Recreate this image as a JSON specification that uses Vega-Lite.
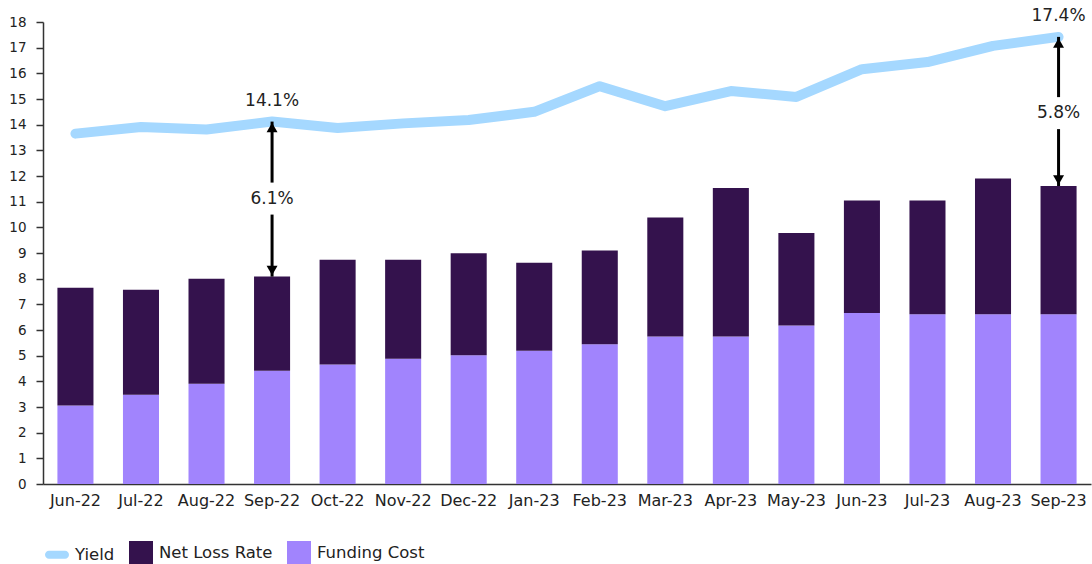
{
  "$schema": "https://vega.github.io/schema/vega-lite/v6.json",
  "autosize": "none",
  "width": 1048,
  "height": 462,
  "padding": {"left": 43, "top": 22, "right": 1, "bottom": 80},
  "background": "white",
  "config": {
    "font": "DejaVu Sans",
    "view": {"stroke": null},
    "axis": {"grid": false, "domainColor": "#333333", "domainWidth": 1.5, "tickColor": "#333333", "tickWidth": 1.5, "labelColor": "#222222", "labelFont": "DejaVu Sans"}
  },
  "datasets": {
    "bars": [
      {"month": "Jun-22", "series": "Funding Cost", "v": 3.06},
      {"month": "Jun-22", "series": "Net Loss Rate", "v": 4.59},
      {"month": "Jul-22", "series": "Funding Cost", "v": 3.48},
      {"month": "Jul-22", "series": "Net Loss Rate", "v": 4.09},
      {"month": "Aug-22", "series": "Funding Cost", "v": 3.91},
      {"month": "Aug-22", "series": "Net Loss Rate", "v": 4.09},
      {"month": "Sep-22", "series": "Funding Cost", "v": 4.41},
      {"month": "Sep-22", "series": "Net Loss Rate", "v": 3.67},
      {"month": "Oct-22", "series": "Funding Cost", "v": 4.66},
      {"month": "Oct-22", "series": "Net Loss Rate", "v": 4.08},
      {"month": "Nov-22", "series": "Funding Cost", "v": 4.88},
      {"month": "Nov-22", "series": "Net Loss Rate", "v": 3.86},
      {"month": "Dec-22", "series": "Funding Cost", "v": 5.02},
      {"month": "Dec-22", "series": "Net Loss Rate", "v": 3.97},
      {"month": "Jan-23", "series": "Funding Cost", "v": 5.19},
      {"month": "Jan-23", "series": "Net Loss Rate", "v": 3.43},
      {"month": "Feb-23", "series": "Funding Cost", "v": 5.44},
      {"month": "Feb-23", "series": "Net Loss Rate", "v": 3.66},
      {"month": "Mar-23", "series": "Funding Cost", "v": 5.75},
      {"month": "Mar-23", "series": "Net Loss Rate", "v": 4.63},
      {"month": "Apr-23", "series": "Funding Cost", "v": 5.75},
      {"month": "Apr-23", "series": "Net Loss Rate", "v": 5.78},
      {"month": "May-23", "series": "Funding Cost", "v": 6.18},
      {"month": "May-23", "series": "Net Loss Rate", "v": 3.6},
      {"month": "Jun-23", "series": "Funding Cost", "v": 6.66},
      {"month": "Jun-23", "series": "Net Loss Rate", "v": 4.39},
      {"month": "Jul-23", "series": "Funding Cost", "v": 6.61},
      {"month": "Jul-23", "series": "Net Loss Rate", "v": 4.44},
      {"month": "Aug-23", "series": "Funding Cost", "v": 6.61},
      {"month": "Aug-23", "series": "Net Loss Rate", "v": 5.29},
      {"month": "Sep-23", "series": "Funding Cost", "v": 6.61},
      {"month": "Sep-23", "series": "Net Loss Rate", "v": 5.0}
    ],
    "yieldline": [
      {"month": "Jun-22", "v": 13.65},
      {"month": "Jul-22", "v": 13.91},
      {"month": "Aug-22", "v": 13.81},
      {"month": "Sep-22", "v": 14.12},
      {"month": "Oct-22", "v": 13.87},
      {"month": "Nov-22", "v": 14.05},
      {"month": "Dec-22", "v": 14.18},
      {"month": "Jan-23", "v": 14.5},
      {"month": "Feb-23", "v": 15.5},
      {"month": "Mar-23", "v": 14.72},
      {"month": "Apr-23", "v": 15.31},
      {"month": "May-23", "v": 15.08},
      {"month": "Jun-23", "v": 16.16},
      {"month": "Jul-23", "v": 16.44},
      {"month": "Aug-23", "v": 17.07},
      {"month": "Sep-23", "v": 17.42}
    ],
    "annot": [
      {"month": "Sep-22", "part": "upper", "v": 14.12, "v2": 11.12, "label": "14.1%"},
      {"month": "Sep-22", "part": "lower", "v": 8.08, "v2": 11.12, "label": ""},
      {"month": "Sep-22", "part": "mid", "v": 11.12, "v2": 11.12, "label": "6.1%"},
      {"month": "Sep-23", "part": "upper", "v": 17.42, "v2": 14.45, "label": "17.4%"},
      {"month": "Sep-23", "part": "lower", "v": 11.61, "v2": 14.45, "label": ""},
      {"month": "Sep-23", "part": "mid", "v": 14.45, "v2": 14.45, "label": "5.8%"}
    ]
  },
  "encoding": {
    "x": {
      "field": "month",
      "type": "ordinal",
      "sort": null,
      "scale": {"paddingInner": 0.45, "paddingOuter": 0.22},
      "axis": {"title": null, "labelAngle": 0, "ticks": false, "labelPadding": 8, "labelFontSize": 16, "labelOverlap": false}
    },
    "y": {
      "field": "v",
      "type": "quantitative",
      "scale": {"domain": [0, 18], "nice": false},
      "axis": {"title": null, "values": [0,1,2,3,4,5,6,7,8,9,10,11,12,13,14,15,16,17,18], "tickSize": 7, "labelPadding": 10, "labelFontSize": 13.5, "labelOverlap": false}
    }
  },
  "layer": [
    {
      "data": {"name": "bars"},
      "mark": {"type": "bar"},
      "encoding": {
        "color": {
          "field": "series",
          "type": "nominal",
          "scale": {"domain": ["Yield", "Net Loss Rate", "Funding Cost"], "range": ["#a5d8ff", "#34124d", "#a184fd"]},
          "legend": {
            "title": null,
            "orient": "none",
            "legendX": 2,
            "legendY": 519,
            "direction": "horizontal",
            "symbolType": "square",
            "symbolSize": 576,
            "symbolStrokeWidth": 0,
            "symbolOpacity": 1,
            "labelFontSize": 16.5,
            "labelColor": "#222222",
            "labelOffset": 6,
            "columnPadding": 14,
            "padding": 0,
            "encode": {
              "symbols": {
                "update": {
                  "shape": [
                    {"test": "datum.value === 'Yield'", "value": "M-0.67,-0.33 L0.67,-0.33 A0.33,0.33 0 0 1 0.67,0.33 L-0.67,0.33 A0.33,0.33 0 0 1 -0.67,-0.33 Z"},
                    {"value": "square"}
                  ]
                }
              }
            }
          }
        },
        "order": {"field": "series", "sort": "ascending"}
      }
    },
    {
      "data": {"name": "yieldline"},
      "mark": {"type": "line", "color": "#a5d8ff", "strokeWidth": 10, "strokeCap": "round", "strokeJoin": "round"}
    },
    {
      "data": {"name": "annot"},
      "transform": [{"filter": "datum.part === 'upper'"}],
      "mark": {"type": "rule", "color": "#000000", "strokeWidth": 3, "y2Offset": -16},
      "encoding": {"y2": {"field": "v2"}}
    },
    {
      "data": {"name": "annot"},
      "transform": [{"filter": "datum.part === 'lower'"}],
      "mark": {"type": "rule", "color": "#000000", "strokeWidth": 3, "y2Offset": 16},
      "encoding": {"y2": {"field": "v2"}}
    },
    {
      "data": {"name": "annot"},
      "transform": [{"filter": "datum.part === 'upper'"}],
      "mark": {"type": "point", "shape": "triangle-up", "filled": true, "color": "#000000", "opacity": 1, "size": 120, "yOffset": 6}
    },
    {
      "data": {"name": "annot"},
      "transform": [{"filter": "datum.part === 'lower'"}],
      "mark": {"type": "point", "shape": "triangle-down", "filled": true, "color": "#000000", "opacity": 1, "size": 120, "yOffset": -6}
    },
    {
      "data": {"name": "annot"},
      "transform": [{"filter": "datum.part === 'mid'"}],
      "mark": {"type": "text", "fontSize": 17, "color": "#222222", "baseline": "middle", "align": "center"},
      "encoding": {"text": {"field": "label"}}
    },
    {
      "data": {"name": "annot"},
      "transform": [{"filter": "datum.part === 'upper'"}],
      "mark": {"type": "text", "fontSize": 17, "color": "#222222", "baseline": "middle", "align": "center", "dy": -21},
      "encoding": {"text": {"field": "label"}}
    }
  ]
}
